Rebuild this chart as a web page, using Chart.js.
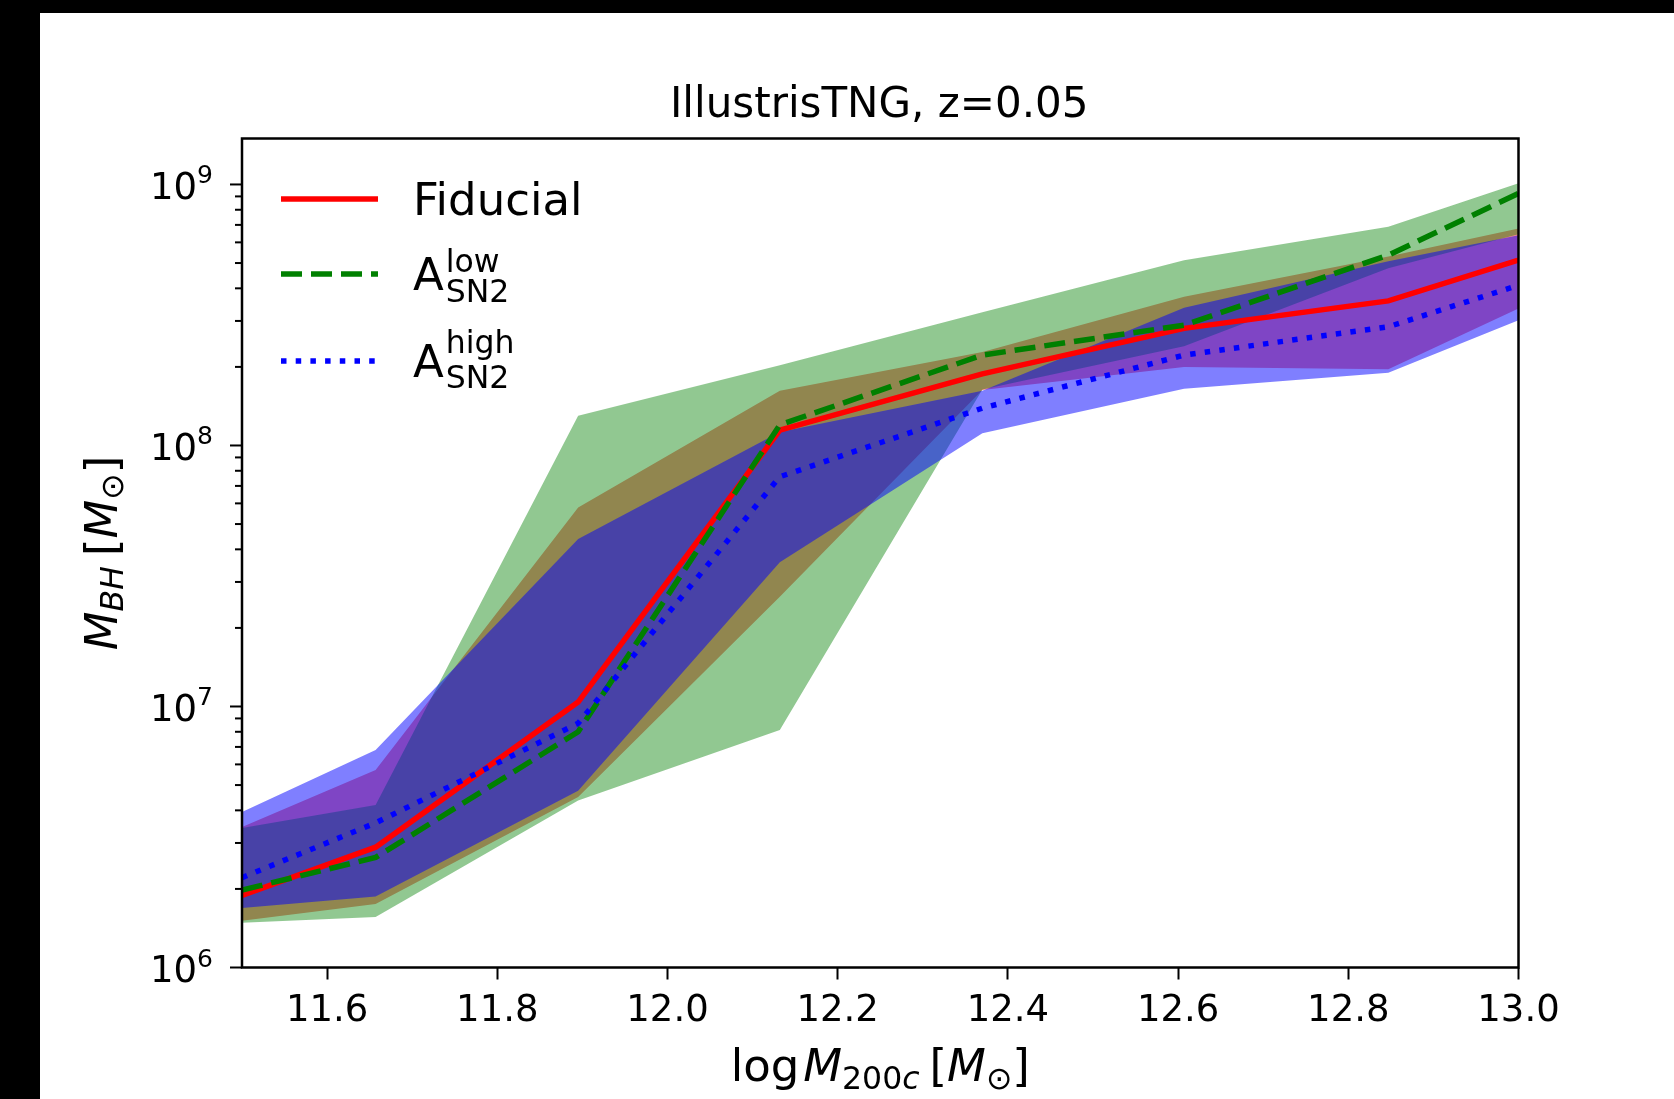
<!DOCTYPE html>
<html>
<head>
<meta charset="utf-8">
<script src="https://cdn.jsdelivr.net/npm/chart.js@4.4.0/dist/chart.umd.min.js"></script>
<style>
  html, body { margin: 0; padding: 0; background: #000; }
  #wrap { position: absolute; left: 40px; top: 13px; width: 1634px; height: 1086px; background: #fff; }
</style>
</head>
<body>
<div id="wrap"><canvas id="chart"></canvas></div>
<script>
// halo mass bins (log M200c)
const massBins = [11.5, 11.657, 11.895, 12.132, 12.37, 12.607, 12.847, 13.0];

// Fiducial
const fidMedian = [1.89e6, 2.89e6, 1.04e7, 1.145e8, 1.88e8, 2.81e8, 3.58e8, 5.13e8];
const fidLow    = [1.51e6, 1.75e6, 4.50e6, 2.63e7, 1.63e8, 2.00e8, 1.96e8, 3.35e8];
const fidHigh   = [3.45e6, 5.71e6, 5.79e7, 1.62e8, 2.28e8, 3.71e8, 5.30e8, 6.78e8];

// A_SN2 low
const lowMedian = [1.98e6, 2.64e6, 8.0e6, 1.20e8, 2.22e8, 2.89e8, 5.36e8, 9.24e8];
const lowLow    = [1.485e6, 1.56e6, 4.36e6, 8.12e6, 1.64e8, 2.40e8, 4.78e8, 6.45e8];
const lowHigh   = [3.42e6, 4.19e6, 1.30e8, 2.03e8, 3.24e8, 5.13e8, 6.88e8, 1.01e9];

// A_SN2 high
const highMedian = [2.21e6, 3.58e6, 8.62e6, 7.59e7, 1.39e8, 2.22e8, 2.85e8, 4.11e8];
const highLow    = [1.69e6, 1.87e6, 4.76e6, 3.57e7, 1.115e8, 1.65e8, 1.90e8, 3.02e8];
const highHigh   = [3.94e6, 6.81e6, 4.38e7, 1.125e8, 1.62e8, 3.37e8, 5.08e8, 6.39e8];

const xTickValues = [11.6, 11.8, 12.0, 12.2, 12.4, 12.6, 12.8, 13.0];
const xTickLabels = ['11.6', '11.8', '12.0', '12.2', '12.4', '12.6', '12.8', '13.0'];
const yTickValues = [1e6, 1e7, 1e8, 1e9];
const yTickExponents = ['6', '7', '8', '9'];

const FONT = "'DejaVu Sans', 'Liberation Sans', sans-serif";
const font = (size, italic) => (italic ? 'italic ' : '') + size + 'px ' + FONT;

const pts = ys => massBins.map((m, i) => ({ x: m, y: ys[i] }));

// draws a run of text pieces (for sub/superscripts), returns end x
function drawRuns(ctx, runs, x, y) {
    runs.forEach(r => {
        ctx.font = r.font;
        ctx.fillText(r.text, x, y + (r.dy || 0));
        x += ctx.measureText(r.text).width + (r.gap || 0);
    });
    return x;
}
function runsWidth(ctx, runs) {
    let w = 0;
    runs.forEach(r => { ctx.font = r.font; w += ctx.measureText(r.text).width + (r.gap || 0); });
    return w;
}

const legendItems = [
    { color: '#ff0000', dash: [], y: 186, main: 'Fiducial' },
    { color: '#008000', dash: [21, 9], y: 261, base: 277, sup: 'low', supY: 258.7, subY: 289 },
    { color: '#0000ff', dash: [5.5, 9.2], y: 348, base: 363.7, sup: 'high', supY: 339.7, subY: 375.3 }
];

const decor = {
    id: 'decor',
    afterDraw(chart) {
        const { ctx, chartArea: a, scales: { y } } = chart;
        ctx.save();
        ctx.fillStyle = '#000';
        ctx.strokeStyle = '#000';

        // y ticks (log, with minor ticks)
        ctx.lineWidth = 2;
        for (let d = 6; d <= 9; d++) {
            for (let m = 1; m <= 9; m++) {
                const v = m * Math.pow(10, d);
                if (v < y.min || v > y.max) continue;
                const py = y.getPixelForValue(v);
                const len = m === 1 ? 12 : 7;
                ctx.beginPath();
                ctx.moveTo(a.left - len, py);
                ctx.lineTo(a.left, py);
                ctx.stroke();
            }
        }
        yTickValues.forEach((v, i) => {
            const py = y.getPixelForValue(v);
            ctx.textAlign = 'right';
            ctx.textBaseline = 'alphabetic';
            ctx.font = font(37);
            ctx.fillText('10', a.left - 45, py + 14.5);
            ctx.textAlign = 'left';
            ctx.font = font(25);
            ctx.fillText(yTickExponents[i], a.left - 45, py - 1);
        });

        // frame
        ctx.lineWidth = 2.5;
        ctx.strokeRect(a.left, a.top, a.right - a.left, a.bottom - a.top);

        // title
        ctx.textAlign = 'center';
        ctx.textBaseline = 'alphabetic';
        ctx.font = font(42);
        ctx.fillText('IllustrisTNG, z=0.05', (a.left + a.right) / 2 - 1, 104);

        // x label
        ctx.textAlign = 'left';
        const xRuns = [
            { text: 'log', font: font(45), gap: 4 },
            { text: 'M', font: font(45, true) },
            { text: '200', font: font(31.5), dy: 8 },
            { text: 'c', font: font(31.5, true), dy: 8, gap: 10 },
            { text: '[', font: font(45) },
            { text: 'M', font: font(45, true) },
            { text: '\u2299', font: font(31.5), dy: 8 },
            { text: ']', font: font(45) }
        ];
        const xw = runsWidth(ctx, xRuns);
        drawRuns(ctx, xRuns, (a.left + a.right) / 2 - xw / 2, 1068);

        // y label
        const yRuns = [
            { text: 'M', font: font(45, true) },
            { text: 'BH', font: font(31.5, true), dy: 6, gap: 10 },
            { text: '[', font: font(45) },
            { text: 'M', font: font(45, true) },
            { text: '\u2299', font: font(31.5), dy: 6 },
            { text: ']', font: font(45) }
        ];
        const yw = runsWidth(ctx, yRuns);
        ctx.save();
        ctx.translate(77, (a.top + a.bottom) / 2);
        ctx.rotate(-Math.PI / 2);
        drawRuns(ctx, yRuns, -yw / 2, 0);
        ctx.restore();

        // legend
        legendItems.forEach(it => {
            ctx.strokeStyle = it.color;
            ctx.lineWidth = 5.5;
            ctx.lineCap = 'butt';
            ctx.setLineDash(it.dash);
            ctx.beginPath();
            ctx.moveTo(241, it.y);
            ctx.lineTo(338, it.y);
            ctx.stroke();
            ctx.setLineDash([]);
            ctx.fillStyle = '#000';
            if (it.main) {
                ctx.font = font(45);
                ctx.fillText(it.main, 373, 202);
            } else {
                ctx.font = font(45);
                ctx.fillText('A', 373, it.base);
                const ax = 373 + ctx.measureText('A').width + 2;
                ctx.font = font(31.5);
                ctx.fillText(it.sup, ax, it.supY);
                ctx.fillText('SN2', ax, it.subY);
            }
        });
        ctx.restore();
    }
};

const band = (data, color, order, target) => ({
    data: pts(data), borderWidth: 0, pointRadius: 0, tension: 0, order,
    backgroundColor: color, fill: target === undefined ? false : { target }
});
const line = (data, color, dash, order) => ({
    data: pts(data), borderColor: color, borderWidth: 5.5, borderDash: dash,
    borderCapStyle: 'butt', pointRadius: 0, tension: 0, fill: false, order
});

new Chart(document.getElementById('chart'), {
    type: 'line',
    data: {
        datasets: [
            band(fidLow, 'rgba(0,0,0,0)', 6),
            band(fidHigh, 'rgba(255,0,0,0.46)', 6, 0),
            band(lowLow, 'rgba(0,0,0,0)', 5),
            band(lowHigh, 'rgba(0,128,0,0.43)', 5, 2),
            band(highLow, 'rgba(0,0,0,0)', 4),
            band(highHigh, 'rgba(0,0,255,0.5)', 4, 4),
            line(fidMedian, '#ff0000', [], 3),
            line(lowMedian, '#008000', [21, 9], 2),
            line(highMedian, '#0000ff', [5.5, 9.2], 1)
        ]
    },
    options: {
        responsive: true,
        maintainAspectRatio: false,
        animation: false,
        layout: { padding: { left: 0, top: 125.5, right: 155.5, bottom: 0 } },
        plugins: { legend: { display: false }, tooltip: { enabled: false }, title: { display: false } },
        scales: {
            x: {
                type: 'linear', min: 11.5, max: 13.0,
                afterBuildTicks: s => { s.ticks = xTickValues.map(v => ({ value: v })); },
                afterFit: s => { s.height = 131.5; },
                border: { display: false },
                grid: { drawOnChartArea: false, drawTicks: true, tickLength: 12, tickWidth: 2, tickColor: '#000' },
                ticks: {
                    color: '#000', padding: 10, maxRotation: 0, autoSkip: false,
                    font: { size: 37, family: FONT },
                    callback: (v, i) => xTickLabels[i]
                }
            },
            y: {
                type: 'logarithmic', min: 1e6, max: 1.5e9,
                afterFit: s => { s.width = 202; },
                border: { display: false },
                grid: { display: false },
                ticks: { display: false }
            }
        }
    },
    plugins: [decor]
});
</script>
</body>
</html>
